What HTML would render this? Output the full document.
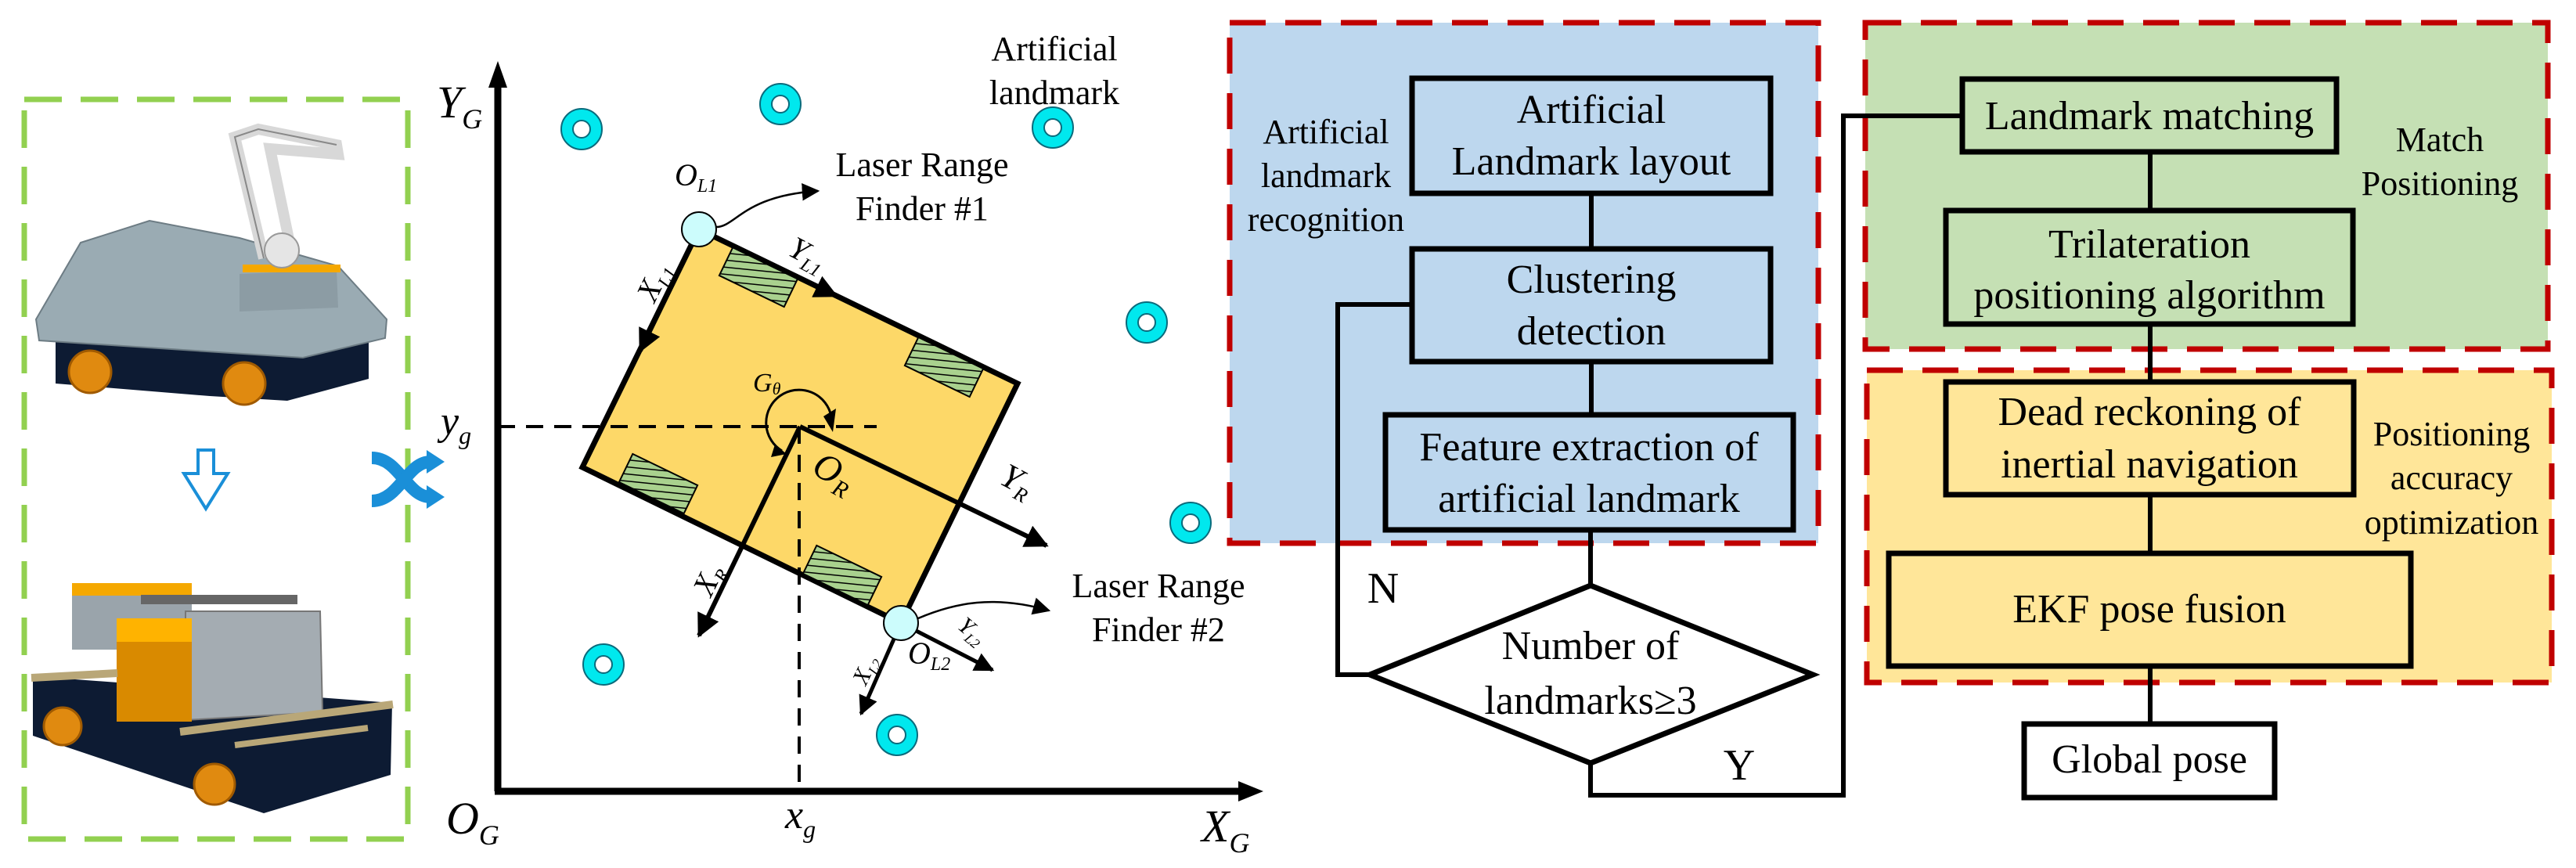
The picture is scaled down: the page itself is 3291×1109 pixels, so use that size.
<!DOCTYPE html>
<html><head><meta charset="utf-8"><style>
html,body{margin:0;padding:0;background:#fff;}
svg{display:block;font-family:"Liberation Serif","Noto Serif CJK SC","DejaVu Serif",serif;}
svg text{font-family:"Liberation Serif","Noto Serif CJK SC","DejaVu Serif",serif;fill:#000;}
</style></head><body>
<svg width="3291" height="1109" viewBox="0 0 3291 1109" xmlns="http://www.w3.org/2000/svg">
<defs>
<marker id="ah" viewBox="0 0 10 10" refX="9" refY="5" markerWidth="5" markerHeight="5" orient="auto" markerUnits="strokeWidth"><path d="M0,0 L10,5 L0,10 z" fill="#000"/></marker>
<marker id="ah2" viewBox="0 0 10 10" refX="9" refY="5" markerWidth="9" markerHeight="9" orient="auto" markerUnits="strokeWidth"><path d="M0,0 L10,5 L0,10 z" fill="#000"/></marker>
<pattern id="hatch" width="9" height="9" patternUnits="userSpaceOnUse" patternTransform="rotate(70)"><rect width="9" height="9" fill="#a9d18e"/><line x1="0" y1="0" x2="0" y2="9" stroke="#000" stroke-width="3"/></pattern>
</defs>

<!-- LEFT PANEL -->
<rect x="31" y="127" width="490" height="945" fill="none" stroke="#92d050" stroke-width="7" stroke-dasharray="48 24"/>
<polygon points="71,435 471,435 471,484 367,512 268,506 71,490" fill="#0d1b33"/>
<circle cx="115" cy="475" r="27" fill="#e08a10" stroke="#a05a00" stroke-width="3"/>
<circle cx="312" cy="490" r="27" fill="#e08a10" stroke="#a05a00" stroke-width="3"/>
<polygon points="46,408 103,310 191,282 306,304 432,340 494,408 492,432 387,457 50,435" fill="#9aabb3" stroke="#6d7c84" stroke-width="2"/>
<polygon points="306,350 430,345 432,393 306,398" fill="#8c9ca4"/>
<rect x="310" y="338" width="125" height="10" fill="#f5a800"/>
<path d="M337,330 L300,175 L330,165 L430,185 L432,197 L345,190 L372,320" fill="none" stroke="#d8d8d8" stroke-width="14"/>
<path d="M337,330 L300,175 L330,165 L430,185" fill="none" stroke="#888" stroke-width="2"/>
<circle cx="360" cy="320" r="22" fill="#e5e5e5" stroke="#999" stroke-width="2"/>
<path d="M253,575 L273,575 L273,605 L291,605 L263,650 L235,605 L253,605 Z" fill="none" stroke="#1a8fd8" stroke-width="4"/>
<polygon points="42,864 501,898 499,990 337,1039 42,940" fill="#0d1b33"/>
<polygon points="92,751 245,751 245,830 92,830" fill="#9aa4ab"/>
<rect x="92" y="745" width="153" height="16" fill="#f5a800"/>
<polygon points="237,781 409,781 412,910 237,920" fill="#a4acb2" stroke="#777" stroke-width="2"/>
<rect x="149" y="794" width="96" height="128" fill="#d98a00"/>
<rect x="149" y="790" width="96" height="30" fill="#ffb300"/>
<rect x="180" y="760" width="200" height="12" fill="#666"/>
<line x1="40" y1="866" x2="150" y2="860" stroke="#b9a778" stroke-width="10"/>
<line x1="230" y1="935" x2="502" y2="900" stroke="#b9a778" stroke-width="10"/>
<line x1="300" y1="952" x2="470" y2="930" stroke="#b9a778" stroke-width="8"/>
<circle cx="80" cy="928" r="24" fill="#e08a10" stroke="#a05a00" stroke-width="3"/>
<circle cx="274" cy="1002" r="26" fill="#e08a10" stroke="#a05a00" stroke-width="3"/>
<path d="M475,585 C510,585 520,635 550,635" fill="none" stroke="#1a8fd8" stroke-width="16"/>
<path d="M475,640 C510,640 520,590 550,590" fill="none" stroke="#1a8fd8" stroke-width="16"/>
<polygon points="545,575 568,590 545,605" fill="#1a8fd8"/>
<polygon points="545,620 568,635 545,650" fill="#1a8fd8"/>

<!-- COORDINATE DIAGRAM -->
<line x1="636" y1="1011" x2="636" y2="100" stroke="#000" stroke-width="9"/>
<polygon points="636,78 624,112 648,112" fill="#000"/>
<line x1="632" y1="1011" x2="1590" y2="1011" stroke="#000" stroke-width="9"/>
<polygon points="1614,1011 1582,998 1582,1024" fill="#000"/>
<g font-style="italic">
<text x="558" y="150" font-size="58">Y<tspan font-size="36" dy="14">G</tspan></text>
<text x="570" y="1065" font-size="58">O<tspan font-size="36" dy="14">G</tspan></text>
<text x="1003" y="1058" font-size="52">x<tspan font-size="32" dy="12">g</tspan></text>
<text x="1535" y="1075" font-size="58">X<tspan font-size="36" dy="14">G</tspan></text>
<text x="563" y="555" font-size="52">y<tspan font-size="32" dy="12">g</tspan></text>
</g>

<polygon points="893,293 1300,490 1151,796 744,597" fill="#fdd868" stroke="#000" stroke-width="7"/>
<g fill="url(#hatch)" stroke="#000" stroke-width="2">
<rect x="-46" y="-20" width="92" height="40" transform="translate(969,354) rotate(25.8)"/>
<rect x="-46" y="-20" width="92" height="40" transform="translate(1206,469) rotate(25.8)"/>
<rect x="-46" y="-20" width="92" height="40" transform="translate(841,618) rotate(25.8)"/>
<rect x="-46" y="-20" width="92" height="40" transform="translate(1076,735) rotate(25.8)"/>
</g>
<line x1="636" y1="545" x2="1120" y2="545" stroke="#000" stroke-width="4" stroke-dasharray="22 14"/>
<line x1="1021" y1="545" x2="1021" y2="1011" stroke="#000" stroke-width="4" stroke-dasharray="22 14"/>
<line x1="1022" y1="545" x2="1337" y2="697" stroke="#000" stroke-width="6" marker-end="url(#ah)"/>
<line x1="1022" y1="545" x2="893" y2="812" stroke="#000" stroke-width="6" marker-end="url(#ah)"/>
<line x1="893" y1="293" x2="818" y2="448" stroke="#000" stroke-width="6" marker-end="url(#ah)"/>
<line x1="893" y1="293" x2="1068" y2="378" stroke="#000" stroke-width="6" marker-end="url(#ah)"/>
<line x1="1151" y1="796" x2="1100" y2="912" stroke="#000" stroke-width="5" marker-end="url(#ah)"/>
<line x1="1151" y1="796" x2="1268" y2="856" stroke="#000" stroke-width="5" marker-end="url(#ah)"/>
<path d="M999,576 A42,42 0 1,1 1062,532" fill="none" stroke="#000" stroke-width="3"/>
<polygon points="1052,532 1068,522 1064,552" fill="#000"/>
<polygon points="990,568 1005,580 985,584" fill="#000"/>
<text x="962" y="500" font-size="34" font-style="italic">G<tspan font-size="22" dy="4">θ</tspan></text>
<circle cx="893" cy="293" r="22" fill="#ccfcfc" stroke="#000" stroke-width="2"/>
<circle cx="1151" cy="796" r="22" fill="#ccfcfc" stroke="#000" stroke-width="2"/>
<path d="M915,290 C940,290 950,250 1045,244" fill="none" stroke="#000" stroke-width="2.5" marker-end="url(#ah2)"/>
<path d="M1173,790 C1220,770 1270,760 1340,780" fill="none" stroke="#000" stroke-width="2.5" marker-end="url(#ah2)"/>
<g font-style="italic">
<text x="862" y="237" font-size="40">O<tspan font-size="24" dy="8">L1</tspan></text>
<text x="1160" y="848" font-size="40">O<tspan font-size="24" dy="8">L2</tspan></text>
<text font-size="40" transform="translate(1005,325) rotate(28)">Y<tspan font-size="24" dy="8">L1</tspan></text>
<text font-size="40" transform="translate(836,388) rotate(-64)">X<tspan font-size="24" dy="8">L1</tspan></text>
<text font-size="44" transform="translate(1275,617) rotate(28)">Y<tspan font-size="26" dy="8">R</tspan></text>
<text font-size="48" transform="translate(1035,604) rotate(28)">O<tspan font-size="30" dy="10">R</tspan></text>
<text font-size="40" transform="translate(908,764) rotate(-64)">X<tspan font-size="24" dy="8">R</tspan></text>
<text font-size="30" transform="translate(1106,877) rotate(-64)">X<tspan font-size="18" dy="6">L2</tspan></text>
<text font-size="30" transform="translate(1222,802) rotate(40)">Y<tspan font-size="18" dy="6">L2</tspan></text>
</g>
<g fill="#00e8ee" stroke="#0a6b7c" stroke-width="2">
<circle cx="743" cy="165" r="26"/><circle cx="997" cy="133" r="26"/><circle cx="1345" cy="163" r="26"/>
<circle cx="1465" cy="412" r="26"/><circle cx="1521" cy="668" r="26"/><circle cx="771" cy="849" r="26"/><circle cx="1146" cy="939" r="26"/>
</g>
<g fill="#fff" stroke="#0a6b7c" stroke-width="2">
<circle cx="743" cy="165" r="11"/><circle cx="997" cy="133" r="11"/><circle cx="1345" cy="163" r="11"/>
<circle cx="1465" cy="412" r="11"/><circle cx="1521" cy="668" r="11"/><circle cx="771" cy="849" r="11"/><circle cx="1146" cy="939" r="11"/>
</g>
<g font-size="44" text-anchor="middle">
<text x="1347" y="77">Artificial</text>
<text x="1347" y="133">landmark</text>
<text x="1178" y="225">Laser Range</text>
<text x="1178" y="281">Finder #1</text>
<text x="1480" y="763">Laser Range</text>
<text x="1480" y="819">Finder #2</text>
</g>

<!-- FLOWCHART -->
<rect x="1571" y="29" width="752" height="665" fill="#bdd7ee"/>
<rect x="1571" y="29" width="752" height="665" fill="none" stroke="#c00000" stroke-width="7" stroke-dasharray="46 25"/>
<rect x="2383" y="29" width="872" height="417" fill="#c5e0b4"/>
<rect x="2383" y="29" width="872" height="417" fill="none" stroke="#c00000" stroke-width="7" stroke-dasharray="46 25"/>
<rect x="2385" y="473" width="875" height="399" fill="#ffe699"/>
<rect x="2385" y="473" width="875" height="399" fill="none" stroke="#c00000" stroke-width="7" stroke-dasharray="46 25"/>
<g stroke="#000" stroke-width="6" fill="none">
<line x1="2033" y1="247" x2="2033" y2="318"/>
<line x1="2033" y1="462" x2="2033" y2="530"/>
<line x1="2032" y1="677" x2="2032" y2="748"/>
<polyline points="1804,389 1709,389 1709,862 1750,862"/>
<polyline points="2032,975 2032,1016 2355,1016 2355,148 2507,148"/>
<line x1="2747" y1="194" x2="2747" y2="269"/>
<line x1="2747" y1="414" x2="2747" y2="488"/>
<line x1="2747" y1="632" x2="2747" y2="707"/>
<line x1="2747" y1="851" x2="2747" y2="925"/>
</g>
<g stroke="#000" stroke-width="7">
<rect x="1804" y="100" width="458" height="147" fill="#bdd7ee"/>
<rect x="1804" y="318" width="458" height="144" fill="#bdd7ee"/>
<rect x="1770" y="530" width="521" height="147" fill="#bdd7ee"/>
<polygon points="2032,748 2316,862 2032,975 1750,862" fill="#fff"/>
<rect x="2507" y="101" width="478" height="93" fill="#c5e0b4"/>
<rect x="2486" y="269" width="520" height="145" fill="#c5e0b4"/>
<rect x="2486" y="488" width="521" height="144" fill="#ffe699"/>
<rect x="2413" y="707" width="667" height="144" fill="#ffe699"/>
<rect x="2586" y="925" width="320" height="94" fill="#fff"/>
</g>
<g font-size="52" text-anchor="middle">
<text x="2033" y="157">Artificial</text>
<text x="2033" y="223">Landmark layout</text>
<text x="2033" y="374">Clustering</text>
<text x="2033" y="440">detection</text>
<text x="2030" y="588">Feature extraction of</text>
<text x="2030" y="654">artificial landmark</text>
<text x="2032" y="842">Number of</text>
<text x="2032" y="912">landmarks≥3</text>
<text x="2746" y="165">Landmark matching</text>
<text x="2746" y="329">Trilateration</text>
<text x="2746" y="394">positioning algorithm</text>
<text x="2746" y="543">Dead reckoning of</text>
<text x="2746" y="610">inertial navigation</text>
<text x="2746" y="795">EKF pose fusion</text>
<text x="2746" y="987">Global pose</text>
</g>
<g font-size="44" text-anchor="middle">
<text x="1694" y="183">Artificial</text>
<text x="1694" y="239">landmark</text>
<text x="1694" y="295">recognition</text>
<text x="3117" y="193">Match</text>
<text x="3117" y="249">Positioning</text>
<text x="3132" y="569">Positioning</text>
<text x="3132" y="625">accuracy</text>
<text x="3132" y="682">optimization</text>
</g>
<text x="1767" y="770" font-size="56" text-anchor="middle">N</text>
<text x="2222" y="996" font-size="56" text-anchor="middle">Y</text>
</svg>
</body></html>
